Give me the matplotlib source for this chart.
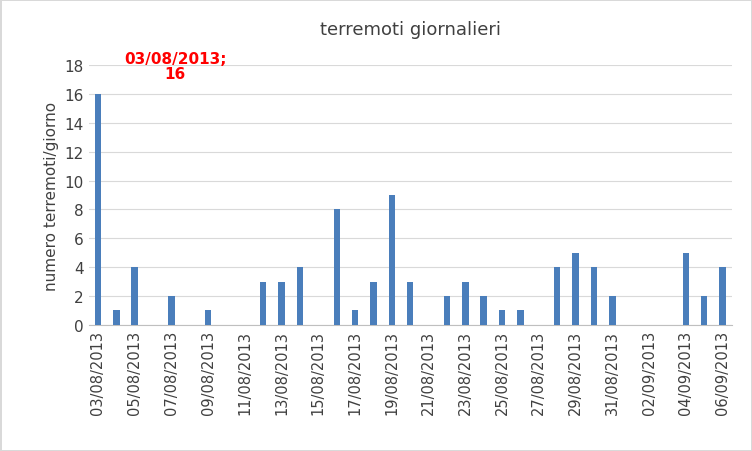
import matplotlib
matplotlib.use("Agg")
import matplotlib.pyplot as plt
import datetime as dt

start = dt.date(2013, 8, 3)
values = [16,1,4,0,2,0,1,0,0,3,3,4,0,8,1,3,9,3,0,2,3,2,1,1,0,4,5,4,2,0,0,0,5,2,4]
dates = [start + dt.timedelta(days=i) for i in range(len(values))]
labels = [d.strftime("%d/%m/%Y") for d in dates]

plt.rcParams['font.family'] = ['Verdana', 'DejaVu Sans']
fig = plt.figure(figsize=(7.52, 4.52), dpi=100)
ax = fig.add_axes([0.118, 0.279, 0.855, 0.575])
x = list(range(len(values)))
ax.bar(x, values, width=0.35, color='#4a7ebb', zorder=3)
ax.set_xlim(-0.5, len(values) - 0.5)
ax.set_ylim(0, 18)
ax.set_yticks(range(0, 19, 2))
ax.yaxis.grid(True, color='#d9d9d9', zorder=0)
ax.set_xticks(x[::2])
ax.set_xticklabels(labels[::2], rotation=90, fontsize=10.5, color='#404040')
ax.tick_params(axis='y', labelsize=11, labelcolor='#404040', length=0)
ax.tick_params(axis='x', length=0)
for s in ['top', 'right', 'left']:
    ax.spines[s].set_visible(False)
ax.spines['bottom'].set_color('#bfbfbf')
ax.set_ylabel('numero terremoti/giorno', fontsize=11, color='#404040')
ax.set_title('terremoti giornalieri', fontsize=13, color='#404040', pad=22)
ax.annotate(f"{labels[0]};\n{values[0]}", xy=(0, values[0]), xytext=(4.2, 16.9),
            ha='center', va='bottom', color='red', fontsize=11, fontweight='bold',
            annotation_clip=False, linespacing=1.0)
fig.patch.set_edgecolor('#d9d9d9')
fig.patch.set_linewidth(1)
fig.savefig("out.png", dpi=100)
